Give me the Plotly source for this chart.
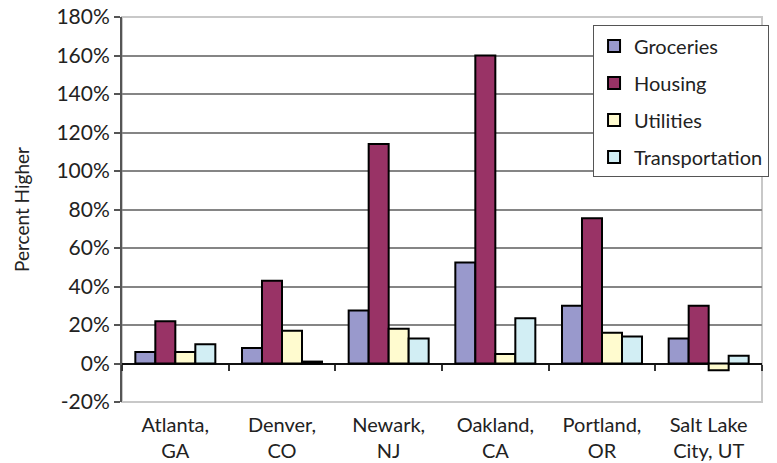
import plotly.graph_objects as go

cities = ["Atlanta,<br>GA", "Denver,<br>CO", "Newark,<br>NJ", "Oakland,<br>CA", "Portland,<br>OR", "Salt Lake<br>City, UT"]
groceries = [6, 8, 27.5, 52.5, 30, 13]
housing = [22, 43, 114, 160, 75.5, 30]
utilities = [6, 17, 18, 5, 16, -3.5]
transportation = [10, 1, 13, 23.5, 14, 4]
y_ticks = [-20, 0, 20, 40, 60, 80, 100, 120, 140, 160, 180]
y_tick_labels = ["-20%", "0%", "20%", "40%", "60%", "80%", "100%", "120%", "140%", "160%", "180%"]

series = [
    ("Groceries", groceries, "#9999CC"),
    ("Housing", housing, "#993366"),
    ("Utilities", utilities, "#FFFBCF"),
    ("Transportation", transportation, "#D2EEF4"),
]

FONT = "Lato, Open Sans, sans-serif"

fig = go.Figure()
for i, (name, vals, color) in enumerate(series):
    fig.add_trace(go.Bar(
        x=cities, y=vals, name=name, legendgroup=name,
        marker=dict(color=color, line=dict(color="#000000", width=2)),
    ))

# invisible trace for the zero-line category tick axis
fig.add_trace(go.Bar(x=cities, y=[None] * len(cities), xaxis="x2", showlegend=False, hoverinfo="skip"))

fig.update_layout(
    width=777, height=463,
    margin=dict(l=122, r=15, t=17, b=61, autoexpand=False),
    paper_bgcolor="white", plot_bgcolor="white",
    barmode="group", bargap=0.25, bargroupgap=0,
    font=dict(family=FONT, size=20, color="#222222"),
    showlegend=True,
    legend=dict(
        x=0.736, y=0.978, xanchor="left", yanchor="top",
        bgcolor="white", bordercolor="#555555", borderwidth=1,
        font=dict(size=20, family=FONT, color="#222222"),
        tracegroupgap=8, traceorder="grouped",
    ),
    xaxis=dict(
        showgrid=False, showline=False, ticks="", automargin=False,
        ticklabelstandoff=9,
        tickfont=dict(size=20, family=FONT, color="#222222"),
    ),
    xaxis2=dict(
        overlaying="x", matches="x", anchor="free", position=0.1, automargin=False,
        showticklabels=False, ticks="outside", tickson="boundaries",
        ticklen=6, tickwidth=1.5, tickcolor="#333333", showgrid=False, showline=False,
    ),
    yaxis=dict(
        range=[-20, 180], tickmode="array", tickvals=y_ticks, ticktext=y_tick_labels,
        automargin=False,
        showgrid=True, gridcolor="#858585", gridwidth=1.5,
        zeroline=True, zerolinecolor="#111111", zerolinewidth=2,
        showline=True, linecolor="#555555", linewidth=2,
        ticks="outside", ticklen=6, tickcolor="#555555", tickwidth=1.5,
        tickfont=dict(size=21, family=FONT, color="#222222"),
        title=dict(text="Percent Higher", font=dict(size=19, family=FONT, color="#222222"), standoff=22),
    ),
    shapes=[dict(type="rect", xref="paper", yref="paper", x0=0, x1=1, y0=0, y1=1,
                 line=dict(color="#C8C8C8", width=2), layer="below")],
)

fig.write_html("out.html")
